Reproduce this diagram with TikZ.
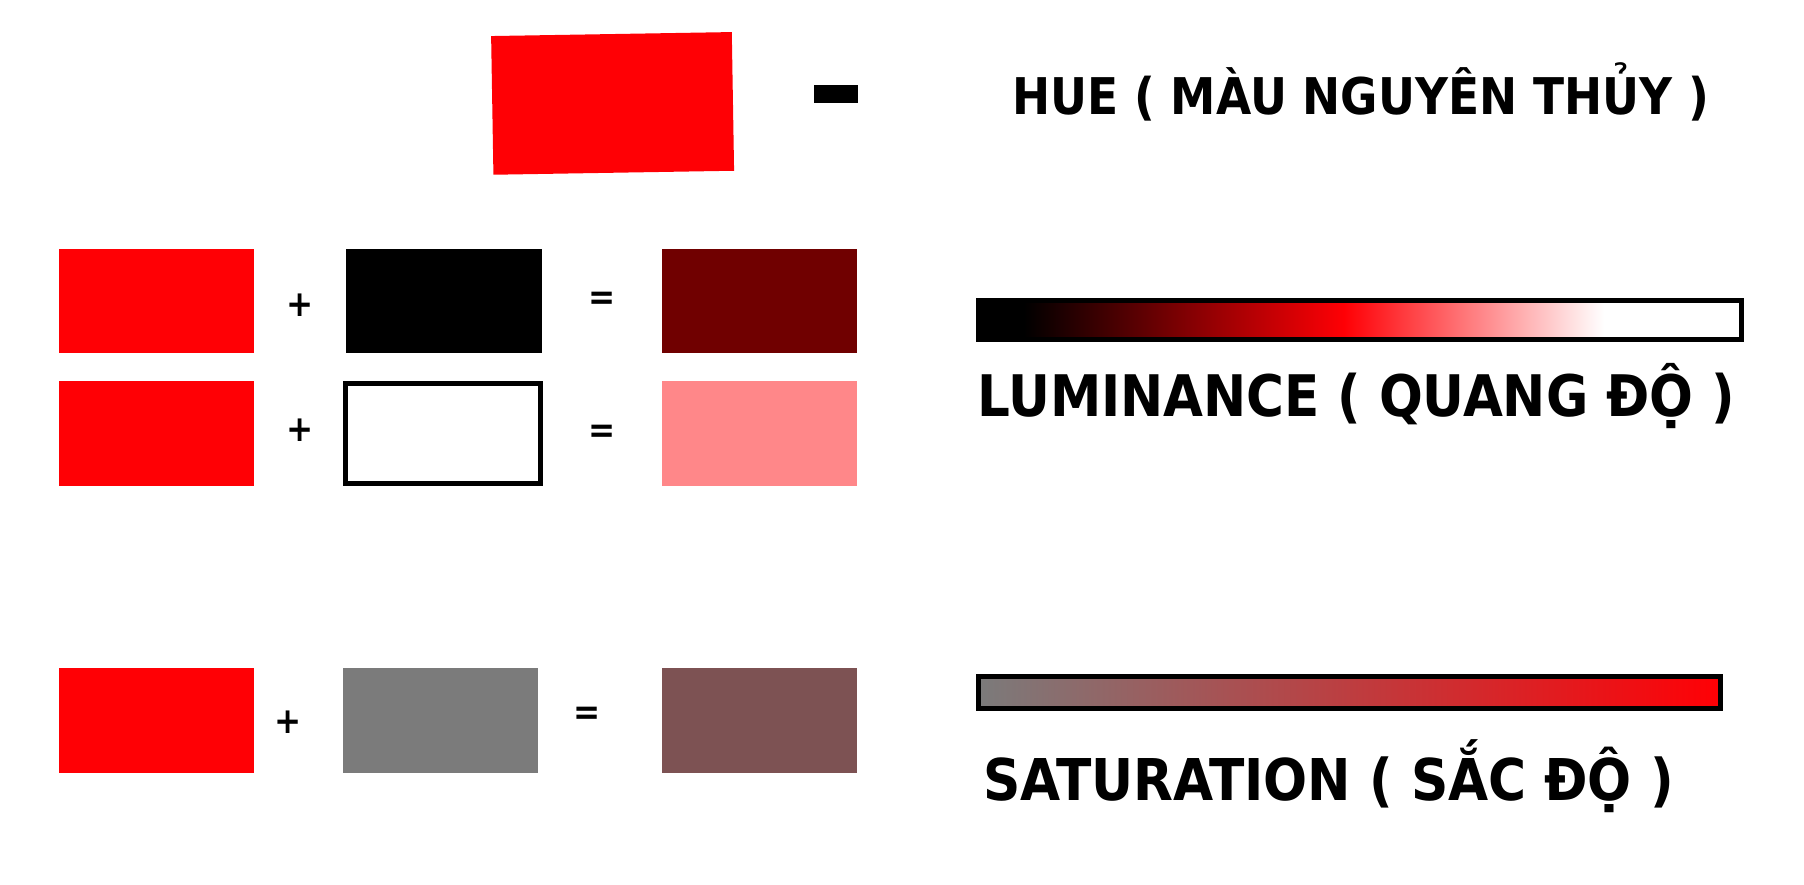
\documentclass[tikz,border=0pt]{standalone}
\usepackage{fontspec}
\usetikzlibrary{positioning}
\newfontfamily\lblfont{DejaVuSansCondensed-Bold}[Extension=.ttf]
\definecolor{hue}{HTML}{FF0005}
\definecolor{shaded}{HTML}{700000}
\definecolor{tint}{HTML}{FF8789}
\definecolor{midgray}{HTML}{7B7B7B}
\definecolor{tone}{HTML}{7D5253}
\pgfdeclarehorizontalshading{lumscale}{100bp}{color(0bp)=(black);
  color(28bp)=(black); color(49bp)=(hue); color(66bp)=(white);
  color(100bp)=(white)}

\begin{document}
\begin{tikzpicture}[x=0.5pt,y=-0.5pt,
  sw/.style={inner sep=0pt,outer sep=0pt,minimum width=97.8pt,
    minimum height=52.35pt},
  op/.style={font=\lblfont\fontsize{18}{18}\selectfont,inner sep=0pt},
  bar/.style={draw,line width=2.5pt,inner sep=0pt,outer sep=0pt},
  lbl/.style={anchor=base west,inner sep=0pt}
]
\useasboundingbox (0,0) rectangle (1804,884);
% hue
\node[sw,fill=hue,minimum width=120.35pt,minimum height=69.35pt,
  rotate=0.95] (huebox) at (612.6,103.4) {};
\node[fill=black,inner sep=0pt,minimum width=22pt,minimum height=9pt]
  (minus) at (836,94) {};
\node[lbl,font=\lblfont\fontsize{25.3}{25.3}\selectfont] (huetxt)
  at (1012,114) {HUE ( MÀU NGUYÊN THỦY )};

% luminance rows
\node[sw,fill=hue] (red1) at (156.5,300.9) {};
\node[op] (plus1) at (300,305) {+};
\node[sw,fill=black] (black) at (444.1,300.9) {};
\node[op] (eq1) at (602,301) {=};
\node[sw,fill=shaded] (dark) at (759.3,300.9) {};

\node[sw,fill=hue] (red2) at (156.5,433.3) {};
\node[op] (plus2) at (300,430) {+};
\node[sw,draw,line width=2.5pt,fill=white,minimum width=97.75pt,
  minimum height=49.85pt] (white) at (443.2,433.3) {};
\node[op] (eq2) at (602,434) {=};
\node[sw,fill=tint] (light) at (759.3,433.3) {};

\node[bar,shading=lumscale,minimum width=381.5pt,minimum height=19.5pt]
  (lumbar) at (1359.5,320) {};
\node[lbl,font=\lblfont\fontsize{28.65}{28.65}\selectfont] (lumtxt)
  at (977,416.5) {LUMINANCE ( QUANG ĐỘ )};

% saturation row
\node[sw,fill=hue] (red3) at (156.5,720.8) {};
\node[op] (plus3) at (288,722) {+};
\node[sw,fill=midgray] (gray) at (440.6,720.8) {};
\node[op] (eq3) at (587,716) {=};
\node[sw,fill=tone] (muted) at (759.3,720.8) {};

\node[bar,left color=midgray,right color=hue,minimum width=371pt,
  minimum height=16pt] (satbar) at (1349.5,692.5) {};
\node[lbl,font=\lblfont\fontsize{28.8}{28.8}\selectfont] (sattxt)
  at (983,800) {SATURATION ( SẮC ĐỘ )};
\end{tikzpicture}
\end{document}
